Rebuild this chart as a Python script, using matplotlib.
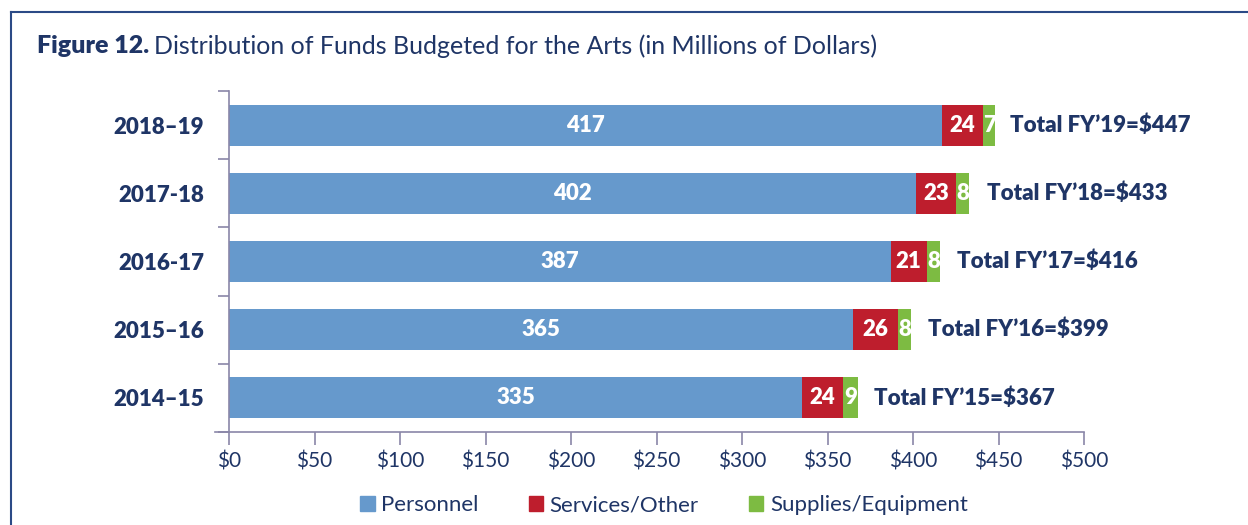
import numpy as np
import matplotlib.pyplot as plt
from matplotlib.patches import Patch

plt.rcParams['font.family'] = ['Lato', 'DejaVu Sans']

# ------------------- Data ------------------- #
years = ['2014–15', '2015–16', '2016-17', '2017-18', '2018–19']
personnel = [335, 365, 387, 402, 417]
services = [24, 26, 21, 23, 24]
supplies = [9, 8, 8, 8, 7]
totals = [367, 399, 416, 433, 447]
total_labels = ["Total FY’15=$367", "Total FY’16=$399", "Total FY’17=$416",
                "Total FY’18=$433", "Total FY’19=$447"]
xticks = [0, 50, 100, 150, 200, 250, 300, 350, 400, 450, 500]

NAVY = '#1f3566'
BLUE = '#6699cc'
RED = '#be1e2d'
GREEN = '#7dbb42'
AXIS = '#8a86a8'

fig = plt.figure(figsize=(12.48, 5.25), dpi=100)
ax = fig.add_axes([229 / 1248, 1 - 432 / 525, (1084 - 229) / 1248, (432 - 91) / 525])

y = np.arange(len(years))
h = 0.6
left2 = np.array(personnel)
left3 = left2 + np.array(services)

ax.barh(y, personnel, height=h, color=BLUE)
ax.barh(y, services, left=left2, height=h, color=RED)
ax.barh(y, supplies, left=left3, height=h, color=GREEN)

for i in range(len(years)):
    ax.text(personnel[i] / 2, y[i], str(personnel[i]), ha='center', va='center',
            color='white', fontsize=16, fontweight='heavy')
    ax.text(left2[i] + services[i] / 2, y[i], str(services[i]), ha='center', va='center',
            color='white', fontsize=16, fontweight='heavy')
    ax.text(left3[i] + supplies[i] / 2, y[i], str(supplies[i]), ha='center', va='center',
            color='white', fontsize=16, fontweight='heavy')
    ax.text(totals[i] + 10, y[i], total_labels[i], ha='left', va='center',
            color=NAVY, fontsize=16, fontweight='heavy')

ax.set_xlim(0, 500)
ax.set_ylim(-0.5, 4.5)
ax.set_xticks(xticks)
ax.set_xticklabels([f'${v}' for v in xticks], color=NAVY, fontsize=15)
ax.set_yticks(y)
ax.set_yticklabels(years, color=NAVY, fontsize=16, fontweight='heavy')
ax.set_yticks(np.arange(-0.5, 4.6, 1), minor=True)
ax.tick_params(axis='y', which='major', length=0, pad=18)
ax.tick_params(axis='y', which='minor', length=8, color=AXIS, width=1.2)
ax.tick_params(axis='x', length=9, color=AXIS, width=1.2, pad=5)

for s in ['top', 'right']:
    ax.spines[s].set_visible(False)
ax.spines['left'].set_color(AXIS)
ax.spines['bottom'].set_color(AXIS)
ax.spines['left'].set_linewidth(1.2)
ax.spines['bottom'].set_linewidth(1.2)
ax.spines['bottom'].set_bounds(-8, 500)

# figure frame
fig.add_artist(plt.Line2D([11 / 1248, 11 / 1248], [0, 1 - 12 / 525], color='#2b4a86', lw=1.5))
fig.add_artist(plt.Line2D([11 / 1248, 1], [1 - 12 / 525, 1 - 12 / 525], color='#2b4a86', lw=1.5))

# title
t = fig.text(37 / 1248, 1 - 46 / 525, 'Figure 12.', color=NAVY, fontsize=18,
             fontweight='heavy', va='center', ha='left')
fig.canvas.draw()
bb = t.get_window_extent()
fig.text((bb.x1 + 5) / 1248, 1 - 46 / 525,
         'Distribution of Funds Budgeted for the Arts (in Millions of Dollars)',
         color=NAVY, fontsize=18, va='center', ha='left')

handles = [Patch(color=BLUE, label='Personnel'),
           Patch(color=RED, label='Services/Other'),
           Patch(color=GREEN, label='Supplies/Equipment')]
leg = fig.legend(handles=handles, loc='center', bbox_to_anchor=(664 / 1248, 1 - 505 / 525),
                 ncol=3, frameon=False, fontsize=16, handlelength=0.65, handleheight=0.65,
                 handletextpad=0.3, columnspacing=2.25)
for txt in leg.get_texts():
    txt.set_color(NAVY)

fig.savefig('out.png', dpi=100)
